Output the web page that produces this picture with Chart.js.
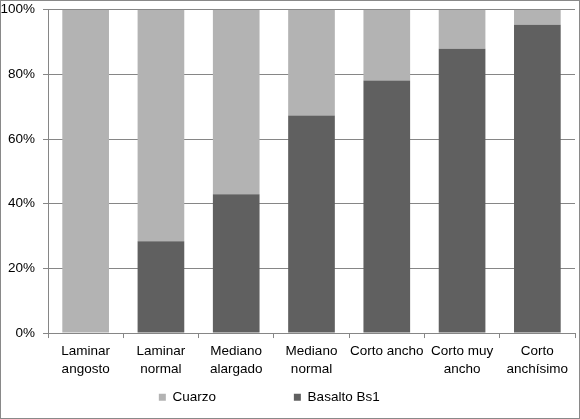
<!DOCTYPE html>
<html>
<head>
<meta charset="utf-8">
<script src="https://cdn.jsdelivr.net/npm/chart.js@4"></script>
<style>
  body { margin: 0; background: #fff; }
  #wrap { width: 578px; height: 417px; border: 1px solid #898989; }
</style>
</head>
<body>
<div id="wrap"><canvas id="myChart" width="578" height="417"></canvas></div>
<script>
const categories = [
  ["Laminar", "angosto"],
  ["Laminar", "normal"],
  ["Mediano", "alargado"],
  ["Mediano", "normal"],
  "Corto ancho",
  ["Corto muy", "ancho"],
  ["Corto", "anchísimo"],
];
const basalto = [0, 28.4, 42.9, 67.3, 78.1, 87.9, 95.3];
const cuarzo = [100, 71.6, 57.1, 32.7, 21.9, 12.1, 4.7];
const y_ticks = [0, 20, 40, 60, 80, 100];

const dark_color = "#606060";
const light_color = "#b3b3b3";
const grid_color = "#868686";
const font = { family: "'Liberation Sans', Arial, sans-serif", size: 13.5, lineHeight: 1.35 };

Chart.defaults.font = font;
Chart.defaults.color = "#000";

// extra spaces to push the two legend entries apart like the original
const legend_pad = { "Cuarzo": 17, "Basalto Bs1": 10 };

const ctx = document.getElementById("myChart").getContext("2d");
const myChart = new Chart(ctx, {
  type: "bar",
  data: {
    labels: categories,
    datasets: [
      {
        label: "Basalto Bs1",
        data: basalto,
        backgroundColor: dark_color,
        categoryPercentage: 1,
        barPercentage: 0.62,
      },
      {
        label: "Cuarzo",
        data: cuarzo,
        backgroundColor: light_color,
        categoryPercentage: 1,
        barPercentage: 0.62,
      },
    ],
  },
  options: {
    responsive: false,
    animation: false,
    layout: { padding: { top: 1, right: 4, left: 0, bottom: 4 } },
    plugins: {
      tooltip: { enabled: false },
      legend: {
        position: "bottom",
        reverse: true,
        labels: {
          boxWidth: 7,
          boxHeight: 7,
          padding: 14,
          font: font,
          generateLabels: (chart) =>
            Chart.defaults.plugins.legend.labels.generateLabels(chart).map((l) => {
              l.text = l.text + " ".repeat(legend_pad[l.text]);
              return l;
            }),
        },
      },
    },
    scales: {
      x: {
        stacked: true,
        grid: {
          drawOnChartArea: false,
          drawTicks: true,
          tickLength: 5,
          color: grid_color,
        },
        border: { color: grid_color },
        ticks: { padding: 4, maxRotation: 0, autoSkip: false },
        afterFit: (scale) => {
          scale.height -= 6;
        },
      },
      y: {
        stacked: true,
        min: 0,
        max: 100,
        afterBuildTicks: (scale) => {
          scale.ticks = y_ticks.map((v) => ({ value: v }));
        },
        afterFit: (scale) => {
          scale.width = 47;
        },
        grid: { color: grid_color, tickLength: 5 },
        border: { color: grid_color },
        ticks: {
          padding: 8,
          font: { family: font.family, size: 13.5, lineHeight: 0.1 },
          callback: (v) => v + "%",
        },
      },
    },
  },
});
</script>
</body>
</html>
